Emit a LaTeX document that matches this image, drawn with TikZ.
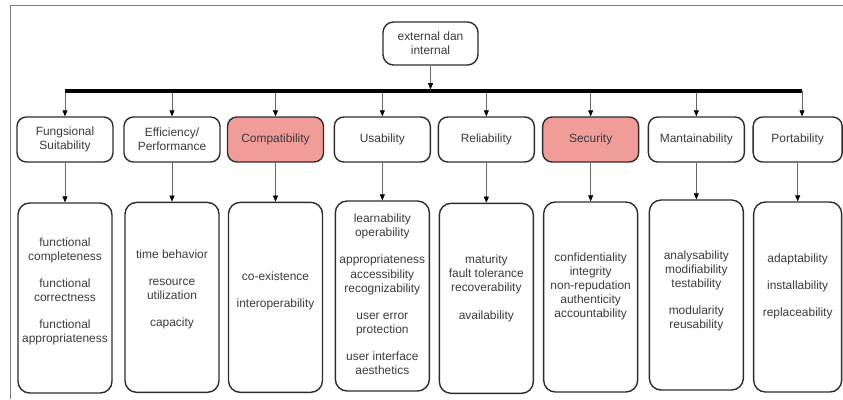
\documentclass[tikz,border=0pt]{standalone}
\usepackage{fontspec}
\setmainfont{Liberation Sans}
\usetikzlibrary{arrows.meta,positioning}
\definecolor{BoxLine}{RGB}{45,45,45}
\definecolor{TextGray}{RGB}{58,58,58}
\definecolor{HiRed}{RGB}{240,156,153}
\definecolor{FrameGray}{RGB}{125,125,125}

\begin{document}
\begin{tikzpicture}[
  every node/.style={font=\fontsize{10.2}{12}\selectfont,text=TextGray},
  root/.style={draw=BoxLine,line width=1.2pt,rounded corners=9pt,fill=white,
               minimum width=2.85cm,minimum height=1.29cm,align=center,inner sep=2pt},
  char/.style={draw=BoxLine,line width=1.2pt,rounded corners=8pt,fill=white,
               minimum width=2.88cm,minimum height=1.35cm,align=center,inner sep=2pt},
  hichar/.style={char,fill=HiRed},
  subbox/.style={draw=BoxLine,line width=1.2pt,rounded corners=10pt,
                 minimum width=2.82cm,minimum height=5.7cm},
  subtext/.style={align=center,inner sep=0pt},
  link/.style={draw=gray!80!black,line width=0.5pt,
               -{Triangle[length=1.8mm,width=1.5mm,color=black]}},
  bus/.style={line width=3.4pt,black},
  frame/.style={draw=FrameGray,line width=0.8pt},
]
\useasboundingbox (0,0) rectangle (25.29,-11.97);
\draw[frame] (0.3,-11.97) -- (0.3,-0.15) -- (25.29,-0.15);

\node[root] (top) at (12.915,-1.305) {external dan\\internal};
\coordinate (busl) at (1.95,-2.73);
\coordinate (busr) at (24.06,-2.73);

\node[char] (fs) at (1.95,-4.185) {Fungsional\\Suitability};
\node[char] (ep) at (5.16,-4.185) {Efficiency/\\Performance};
\node[hichar] (co) at (8.265,-4.185) {Compatibility};
\node[char] (us) at (11.47,-4.185) {Usability};
\node[char] (re) at (14.59,-4.185) {Reliability};
\node[hichar] (se) at (17.72,-4.185) {Security};
\node[char] (ma) at (20.89,-4.185) {Mantainability};
\node[char,minimum width=2.67cm] (po) at (23.93,-4.185) {Portability};

\node[subbox] (fsb) at (1.95,-8.94) {};
\node[subbox] (epb) at (5.16,-8.92) {};
\node[subbox] (cob) at (8.265,-8.92) {};
\node[subbox] (usb) at (11.47,-8.88) {};
\node[subbox] (reb) at (14.59,-8.95) {};
\node[subbox] (seb) at (17.72,-8.91) {};
\node[subbox] (mab) at (20.89,-8.85) {};
\node[subbox,minimum width=2.64cm] (pob) at (23.93,-8.91) {};

\node[subtext] (fst) at (1.95,-8.75) {functional\\completeness\\[0.39cm]functional\\correctness\\[0.39cm]functional\\appropriateness};
\node[subtext] (ept) at (5.16,-8.69) {time behavior\\[0.39cm]resource\\utilization\\[0.39cm]capacity};
\node[subtext] (cot) at (8.265,-8.72) {co-existence\\[0.39cm]interoperability};
\node[subtext] (ust) at (11.47,-8.83) {learnability\\operability\\[0.39cm]appropriateness\\accessibility\\recognizability\\[0.39cm]user error\\protection\\[0.39cm]user interface\\aesthetics};
\node[subtext] (ret) at (14.59,-8.65) {maturity\\fault tolerance\\recoverability\\[0.39cm]availability};
\node[subtext] (set) at (17.72,-8.59) {confidentiality\\integrity\\non-repudation\\authenticity\\accountability};
\node[subtext] (mat) at (20.89,-8.72) {analysability\\modifiability\\testability\\[0.39cm]modularity\\reusability};
\node[subtext] (pot) at (23.93,-8.59) {adaptability\\[0.39cm]installability\\[0.39cm]replaceability};

\draw[link,shorten >=1.5pt] (top) -- (top |- busl);
\draw[link] (fs |- busl) -- (fs);
\draw[link] (ep |- busl) -- (ep);
\draw[link] (co |- busl) -- (co);
\draw[link] (us |- busl) -- (us);
\draw[link] (re |- busl) -- (re);
\draw[link] (se |- busl) -- (se);
\draw[link] (ma |- busl) -- (ma);
\draw[link] (busr) -- (busr |- po.north);
\draw[bus] (busl) -- (busr);

\draw[link] (fs) -- (fsb);
\draw[link] (ep) -- (epb);
\draw[link] (co) -- (cob);
\draw[link] (us) -- (usb);
\draw[link] (re) -- (reb);
\draw[link] (se) -- (seb);
\draw[link] (ma) -- (mab);
\draw[link] (po) -- (pob);
\end{tikzpicture}
\end{document}
